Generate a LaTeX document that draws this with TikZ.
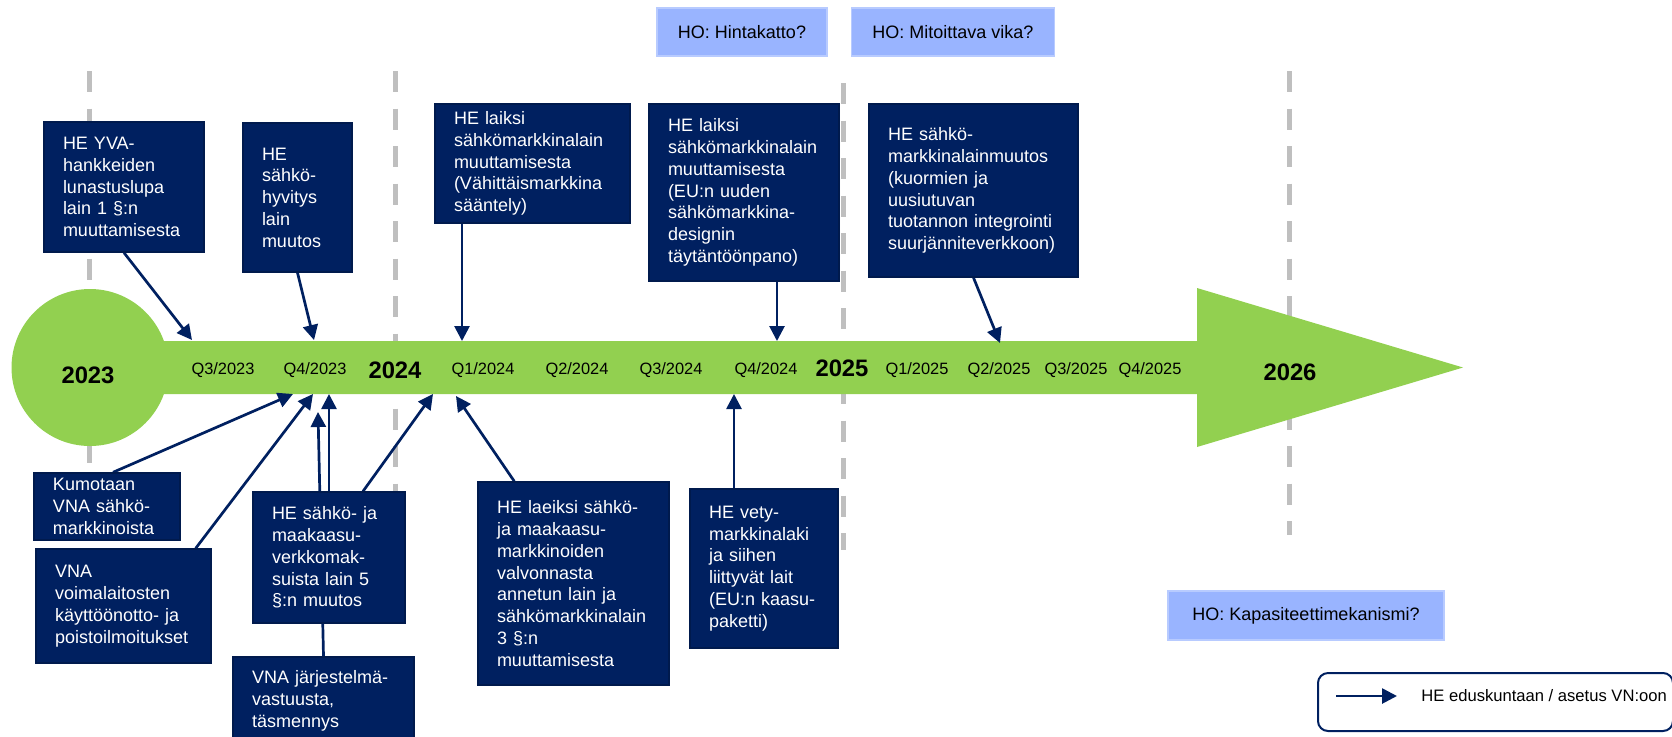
\documentclass[tikz,border=0pt]{standalone}
\usepackage{fontspec}
\setmainfont{Liberation Sans}
\usepackage{xcolor}
\usepackage{tikz}
\usetikzlibrary{arrows.meta,calc,positioning}

\definecolor{navy}{RGB}{0,32,96}
\definecolor{barclr}{RGB}{146,208,80}
\definecolor{hoblue}{RGB}{153,180,255}
\definecolor{dashgrey}{RGB}{191,191,191}

\newcommand{\hefont}{\fontsize{9}{10.9}\selectfont\hyphenpenalty=10000 }
\newcommand{\qtrfont}{\fontsize{8.2}{9.8}\selectfont}
\newcommand{\yrfont}{\fontsize{11.9}{14}\selectfont\bfseries}

\pgfdeclarelayer{timeline}
\pgfdeclarelayer{links}
\pgfsetlayers{timeline,links,main}

\tikzset{
  hebox/.style 2 args={fill=navy,draw=navy!80!black,line width=0.7pt,text=white,
    font=\hefont,align=left,inner xsep=9.5pt,inner ysep=0pt,
    text width=#1,minimum height=#2},
  hobox/.style={fill=hoblue,draw=hoblue!70!white,line width=0.7pt,
    font=\hefont,minimum height=24pt,inner sep=0pt},
  quarter/.style={font=\qtrfont,inner sep=0pt},
  year/.style={font=\yrfont,inner sep=0pt},
  gridline/.style={draw=dashgrey,line width=2.5pt,dash pattern=on 10.5pt off 8.25pt}
}

\begin{document}
\begin{tikzpicture}[x=0.5pt,y=-0.5pt]
  \useasboundingbox (0,0) rectangle (1672,736);

  \begin{pgfonlayer}{timeline}
    \foreach \xx/\ya/\yb in {89/71/463, 395/71/600, 843/83/550, 1289/71/535}
      \draw[gridline] (\xx,\ya) -- (\xx,\yb);
    \fill[barclr] (90,367.5) circle[radius=78.5];
    \fill[barclr] (90,341) -- (1197,341) -- (1197,288) -- (1463,367.5)
      -- (1197,447) -- (1197,394) -- (90,394) -- cycle;
  \end{pgfonlayer}

  \begin{scope}
    \node[year] (y23) at (88,375) {2023};
    \node[year] (y24) at (395,370) {2024};
    \node[year] (y25) at (842,368) {2025};
    \node[year] (y26) at (1290,372) {2026};
    \foreach \xx/\qq/\yy in {223/3/2023, 315/4/2023, 483/1/2024, 577/2/2024,
        671/3/2024, 766/4/2024, 917/1/2025, 999/2/2025, 1076/3/2025, 1150/4/2025}
      \node[quarter] (q\qq\yy) at (\xx,370) {Q\qq/\yy};

    \coordinate (t1) at (192,340);
    \coordinate (t2) at (314,340);
    \coordinate (t3) at (462,341);
    \coordinate (t4) at (777,341);
    \coordinate (t5) at (1000,343);
    \coordinate (b1) at (293,394);
    \coordinate (b2) at (313,394);
    \coordinate (b3) at (318,412);
    \coordinate (b4) at (329,394);
    \coordinate (b5) at (433,394);
    \coordinate (b6) at (456,396);
    \coordinate (b7) at (734,394);

    % above the timeline
    \node[hebox={61pt}{65pt}] (yva) at (124,187)
      {HE YVA-\\hankkeiden\\lunastuslupa\\lain 1 §:n\\muuttamisesta};
    \node[hebox={35.5pt}{74.5pt}] (hyv) at (297.5,197.5)
      {HE\\sähkö-\\hyvitys\\lain\\muutos};
    \node[hebox={78.5pt}{59.5pt}] (vah) at (532.5,163.5)
      {HE laiksi\\sähkömarkkinalain\\muuttamisesta\\(Vähittäismarkkina\\sääntely)};
    \node[hebox={76pt}{88.5pt}] (eu) at (744,192.5)
      {HE laiksi\\sähkömarkkinalain\\muuttamisesta\\(EU:n uuden\\sähkömarkkina-\\designin\\täytäntöönpano)};
    \node[hebox={85.5pt}{86.5pt}] (suur) at (973.5,190.5)
      {HE sähkö-\\markkinalainmuutos\\(kuormien ja\\uusiutuvan\\tuotannon integrointi\\suurjänniteverkkoon)};

    % below the timeline
    \node[hebox={54pt}{33.5pt}] (kum) at (107,506.5)
      {Kumotaan\\VNA sähkö-\\markkinoista};
    \node[hebox={68.5pt}{57pt}] (voima) at (123.5,606)
      {VNA\\voimalaitosten\\käyttöönotto- ja\\poistoilmoitukset};
    \node[hebox={57pt}{65.5pt}] (verk) at (329,557.5)
      {HE sähkö- ja\\maakaasu-\\verkkomak-\\suista lain 5\\§:n muutos};
    \node[hebox={71.5pt}{44pt}] (jarj) at (323.5,701)
      {VNA järjestelmä-\\vastuusta,\\täsmennys};
    \node[hebox={76.5pt}{101.5pt}] (lae) at (573.5,583.5)
      {HE laeiksi sähkö-\\ja maakaasu-\\markkinoiden\\valvonnasta\\annetun lain ja\\sähkömarkkinalain\\3 §:n\\muuttamisesta};
    \node[hebox={55pt}{79.5pt}] (vety) at (764,568.5)
      {HE vety-\\markkinalaki\\ja siihen\\liittyvät lait\\(EU:n kaasu-\\paketti)};

    \node[hobox,minimum width=85pt] (hinta) at (742,32) {HO: Hintakatto?};
    \node[hobox,minimum width=101.5pt,right=11.5pt of hinta] (mitoit) {HO: Mitoittava vika?};
    \node[hobox,minimum width=138pt,minimum height=24.5pt] (kapa) at (1306,615.5)
      {HO: Kapasiteettimekanismi?};

    % legend
    \node[draw=navy,line width=1pt,rounded corners=5pt,minimum width=177.5pt,
          minimum height=29pt] (legend) at (1495.5,702) {};
    \coordinate (lgs) at (1336,696);
    \coordinate (lge) at (1397,696);
    \node[anchor=west,inner sep=0pt,font=\fontsize{8.3}{10}\selectfont] (legtxt)
      at (1421,696) {HE eduskuntaan / asetus VN:oon};
  \end{scope}

  \begin{pgfonlayer}{links}
  \begin{scope}[>={Triangle[length=7.5pt,width=7.5pt]},
                every edge/.style={draw=navy,line width=1.35pt}]
    \path [->] (yva.south) edge (t1);
    \path [->] (hyv.south) edge (t2);
    \path [->] (vah.south -| t3) edge (t3);
    \path [->] (eu.south -| t4) edge (t4);
    \path [->] (suur.south) edge (t5);

    \path [->] ($(kum.north)+(6,0)$) edge (b1);
    \path [->] ($(voima.north east)+(-16,0)$) edge (b2);
    \path [->] (jarj.north) edge (b3);
    \path [->] (verk.north) edge (b4);
    \path [->] ($(verk.north)+(34,0)$) edge (b5);
    \path [->] ($(lae.north west)+(37,0)$) edge (b6);
    \path [->] (vety.north -| b7) edge (b7);

    \path [->] (lgs) edge (lge);
  \end{scope}
  \end{pgfonlayer}

\end{tikzpicture}
\end{document}
